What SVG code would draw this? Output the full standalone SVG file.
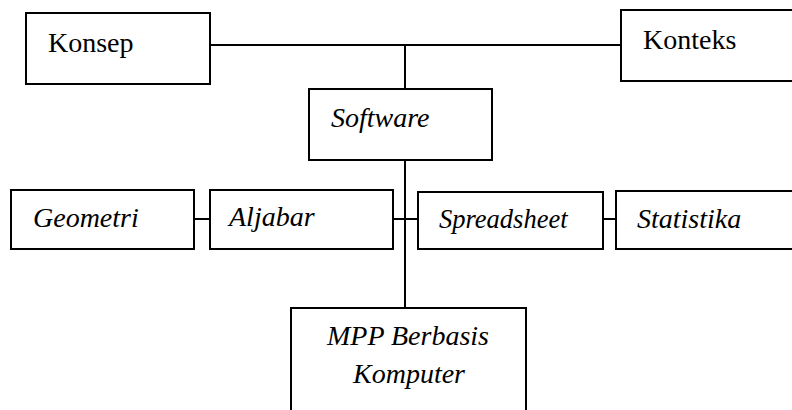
<svg xmlns="http://www.w3.org/2000/svg" width="792" height="410" viewBox="0 0 792 410">
<style>
.box{fill:#fff;stroke:#000;stroke-width:2}
.t{font-family:'Liberation Serif','Times New Roman',serif;font-size:28px;fill:#000}
.i{font-style:italic}
.ln{stroke:#000;stroke-width:2;fill:none}
</style>
<rect width="792" height="410" fill="#fff"/>
<g id="connectors">
<line class="ln" x1="210" y1="45" x2="621" y2="45"/>
<line class="ln" x1="405" y1="45" x2="405" y2="89"/>
<line class="ln" x1="405" y1="160" x2="405" y2="308"/>
<line class="ln" x1="194" y1="219" x2="210" y2="219"/>
<line class="ln" x1="393" y1="219" x2="418" y2="219"/>
<line class="ln" x1="603" y1="219" x2="616" y2="219"/>
</g>
<g id="konsep">
<rect class="box" x="26" y="13" width="184" height="71"/>
<text class="t" x="48" y="52">Konsep</text>
</g>
<g id="konteks">
<rect class="box" x="621" y="10" width="180" height="71"/>
<text class="t" x="643" y="49">Konteks</text>
</g>
<g id="software">
<rect class="box" x="309" y="89" width="183" height="71"/>
<text class="t i" x="331" y="127">Software</text>
</g>
<g id="geometri">
<rect class="box" x="11" y="190" width="183" height="59"/>
<text class="t i" x="33" y="227">Geometri</text>
</g>
<g id="aljabar">
<rect class="box" x="210" y="190" width="183" height="59"/>
<text class="t i" x="229" y="226">Aljabar</text>
</g>
<g id="spreadsheet">
<rect class="box" x="418" y="192" width="185" height="57"/>
<text class="t i" style="font-size:26.5px" x="439" y="228">Spreadsheet</text>
</g>
<g id="statistika">
<rect class="box" x="616" y="191" width="185" height="58"/>
<text class="t i" x="637" y="228">Statistika</text>
</g>
<g id="mpp">
<rect class="box" x="291" y="308" width="235" height="120"/>
<text class="t i" x="408" y="345" text-anchor="middle">MPP Berbasis</text>
<text class="t i" x="409" y="383" text-anchor="middle">Komputer</text>
</g>
</svg>
